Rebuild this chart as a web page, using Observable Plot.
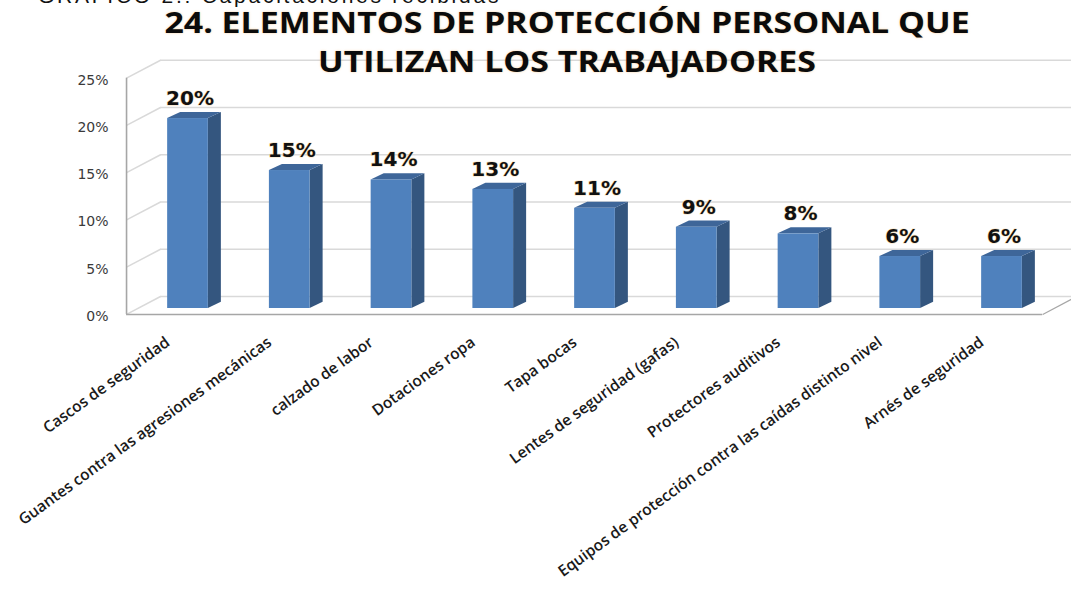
<!DOCTYPE html>
<html>
<head>
<meta charset="utf-8">
<script src="https://cdn.jsdelivr.net/npm/d3@7"></script>
<script src="https://cdn.jsdelivr.net/npm/@observablehq/plot@0.6"></script>
<style>
  body { margin: 0; background: #fff; width: 1071px; height: 589px; overflow: hidden; position: relative; }
  #chart { position: absolute; left: 0; top: 0; }
  #cut { position: absolute; left: 38px; top: -15px; font-family: "Liberation Sans", Arial, sans-serif; font-size: 21px; line-height: 21px; letter-spacing: 2.75px; white-space: nowrap; color: #111; }
  .tl { position: absolute; left: 567px; white-space: nowrap; font-family: "Open Sans", sans-serif; font-weight: 700; font-size: 28px; line-height: 28px; color: #0b0b0b;
        transform: translateX(-50%) scaleX(1.21); text-shadow: 0 0 2px rgba(240,160,60,0.55); }
  g[aria-label="vlabels"] text { letter-spacing: 4px; }
  g[aria-label="ylabels"] text { letter-spacing: 3.5px; }
  g[aria-label="xlabels"] text { letter-spacing: 1px; }
</style>
</head>
<body>
<div id="chart"></div>
<div id="cut">GRAFICO 2.: Capacitaciones recibidas</div>
<div class="tl" id="t1" style="top:8px">24. ELEMENTOS DE PROTECCIÓN PERSONAL QUE</div>
<div class="tl" id="t2" style="top:47px">UTILIZAN LOS TRABAJADORES</div>
<script>
// ---- data ----
const categorias = [
  "Cascos de seguridad",
  "Guantes contra las agresiones mecánicas",
  "calzado de labor",
  "Dotaciones ropa",
  "Tapa bocas",
  "Lentes de seguridad (gafas)",
  "Protectores auditivos",
  "Equipos de protección contra las caídas distinto nivel",
  "Arnés de seguridad"
];
const valores = [20.1, 14.6, 13.6, 12.6, 10.6, 8.6, 7.9, 5.5, 5.5];
const etiquetas = ["20%", "15%", "14%", "13%", "11%", "9%", "8%", "6%", "6%"];
const ticksY = [0, 5, 10, 15, 20, 25];
const tickLabels = ["0%", "5%", "10%", "15%", "20%", "25%"];

// ---- layout constants (3D look) ----
const HALF = 0.2;        // half bar width (category units)
const DX = 0.128;        // bar depth, horizontal
const DY = 0.65;         // bar depth, vertical (% units)
const WALL = -0.604;     // front left wall
const BACK_LEFT = -0.27; // back left corner
const FRONT = -0.63;     // front plane offset (% units)
const BACK = 1.27;       // back plane offset (% units)
const RIGHT_FRONT = 8.40;

const data = categorias.map((c, i) => ({c, i, v: valores[i], lab: etiquetas[i]}));
const sideFaces = data.flatMap(d => [
  {i: d.i, x: d.i + HALF, y1: 0, y2: d.v},
  {i: d.i, x: d.i + HALF + DX, y1: DY, y2: d.v + DY}
]);
const topFaces = data.flatMap(d => [
  {i: d.i, x: d.i - HALF, y1: d.v, y2: d.v},
  {i: d.i, x: d.i - HALF + DX, y1: d.v, y2: d.v + DY},
  {i: d.i, x: d.i + HALF, y1: d.v, y2: d.v + DY},
  {i: d.i, x: d.i + HALF + DX, y1: d.v + DY, y2: d.v + DY}
]);

const chart = Plot.plot({
  width: 1071,
  height: 589,
  margin: 0,
  style: {background: "transparent", overflow: "visible"},
  x: {type: "linear", domain: [0, 8], range: [187.5, 1001.5], axis: null},
  y: {domain: [0, 25], range: [308, 71.75], axis: null},
  marks: [
    Plot.ruleY(ticksY, {y: d => d + BACK, x1: BACK_LEFT, x2: 9, stroke: "#d9d9d9", strokeWidth: 1.5}),
    Plot.link(ticksY, {x1: WALL, y1: d => d + FRONT, x2: BACK_LEFT, y2: d => d + BACK, stroke: "#d9d9d9", strokeWidth: 1.5}),
    Plot.link([0], {x1: RIGHT_FRONT, y1: FRONT, x2: RIGHT_FRONT + (BACK_LEFT - WALL), y2: BACK, stroke: "#a6a6a6", strokeWidth: 1.2}),
    Plot.ruleX([WALL], {y1: FRONT, y2: 25 + FRONT, stroke: "#a6a6a6", strokeWidth: 1.6}),
    Plot.ruleY([0], {y: FRONT, x1: WALL, x2: RIGHT_FRONT, stroke: "#a6a6a6", strokeWidth: 1.6}),
    Plot.areaY(sideFaces, {x: "x", y1: "y1", y2: "y2", z: "i", fill: "#34567f", curve: "linear"}),
    Plot.areaY(topFaces, {x: "x", y1: "y1", y2: "y2", z: "i", fill: "#3e6699", curve: "linear"}),
    Plot.rectY(data, {x1: d => d.i - HALF, x2: d => d.i + HALF, y1: 0, y2: "v", fill: "#4f81bd"}),
    Plot.text(data, {x: "i", y: "v", text: "lab", dx: 2, dy: -20, fontSize: 20, fontWeight: "bold",
      fontFamily: "DejaVu Sans", fill: "#111", stroke: "#f6d49a", strokeWidth: 1.2, strokeOpacity: 0.7,
      paintOrder: "stroke", ariaLabel: "vlabels"}),
    Plot.text(ticksY, {x: WALL, y: d => d + FRONT, text: (d, i) => tickLabels[i], textAnchor: "end",
      dx: -18, dy: 2, fontSize: 14, fontFamily: "DejaVu Sans", fill: "#3a3a3a", ariaLabel: "ylabels"}),
    Plot.text(data, {x: "i", y: 0, text: "c", rotate: -36, textAnchor: "end", dx: -20, dy: 32,
      fontSize: 15.5, fontWeight: 600, fontFamily: "Open Sans", fill: "#1a1a1a", ariaLabel: "xlabels"})
  ]
});
document.getElementById("chart").appendChild(chart);
</script>
</body>
</html>
